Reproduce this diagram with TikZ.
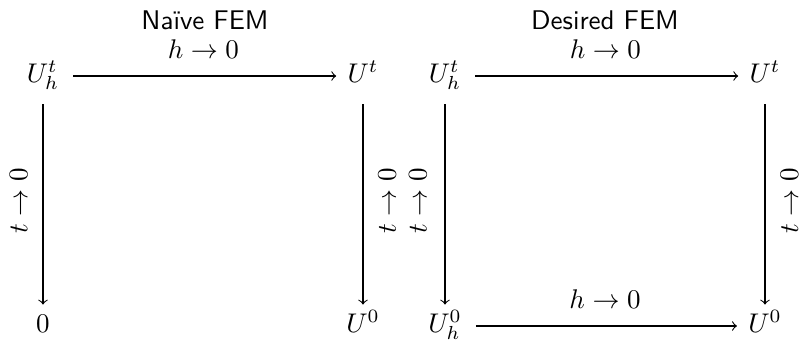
\documentclass[tikz,border=0pt]{standalone}
\usetikzlibrary{arrows}
\begin{document}
\begin{tikzpicture}[x=0.3704pt,y=-0.3704pt,>=to,
  obj/.style={inner sep=3pt,text height=7pt,text depth=2.5pt},
  arr/.style={->,line width=0.4pt},
  ttl/.style={font=\sffamily},
  lblh/.style={midway,yshift=10pt}]
\useasboundingbox (0,0) rectangle (801,340);
% titles
\node[ttl] (t1) at (205,20) {Naïve FEM};
\node[ttl] (t2) at (605,20) {Desired FEM};
% left diagram
\node[obj] (a1) at (43,76) {$U_h^t$};
\node[obj] (b1) at (363,76) {$U^t$};
\node[obj] (c1) at (43,326) {$0$};
\node[obj] (d1) at (363,326) {$U^0$};
\draw[arr,shorten <=2pt,shorten >=1pt] (a1) -- node[lblh] {$h\to 0$} (b1);
\draw[arr,shorten <=2.5pt] (a1) -- node[midway,xshift=-9pt,rotate=90] {$t\to 0$} (c1);
\draw[arr,shorten <=2.5pt] (b1) -- node[midway,xshift=9pt,rotate=90] {$t\to 0$} (d1);
% right diagram
\node[obj] (a2) at (445,76) {$U_h^t$};
\node[obj] (b2) at (765,76) {$U^t$};
\node[obj] (c2) at (445,326) {$U_h^0$};
\node[obj] (d2) at (765,326) {$U^0$};
\draw[arr,shorten <=2pt,shorten >=1pt] (a2) -- node[lblh] {$h\to 0$} (b2);
\draw[arr,shorten <=2pt,shorten >=1pt] (c2) -- node[lblh] {$h\to 0$} (d2);
\draw[arr,shorten <=2.5pt] (a2) -- node[midway,xshift=-10pt,rotate=90] {$t\to 0$} (c2);
\draw[arr,shorten <=2.5pt] (b2) -- node[midway,xshift=9pt,rotate=90] {$t\to 0$} (d2);
\end{tikzpicture}
\end{document}
